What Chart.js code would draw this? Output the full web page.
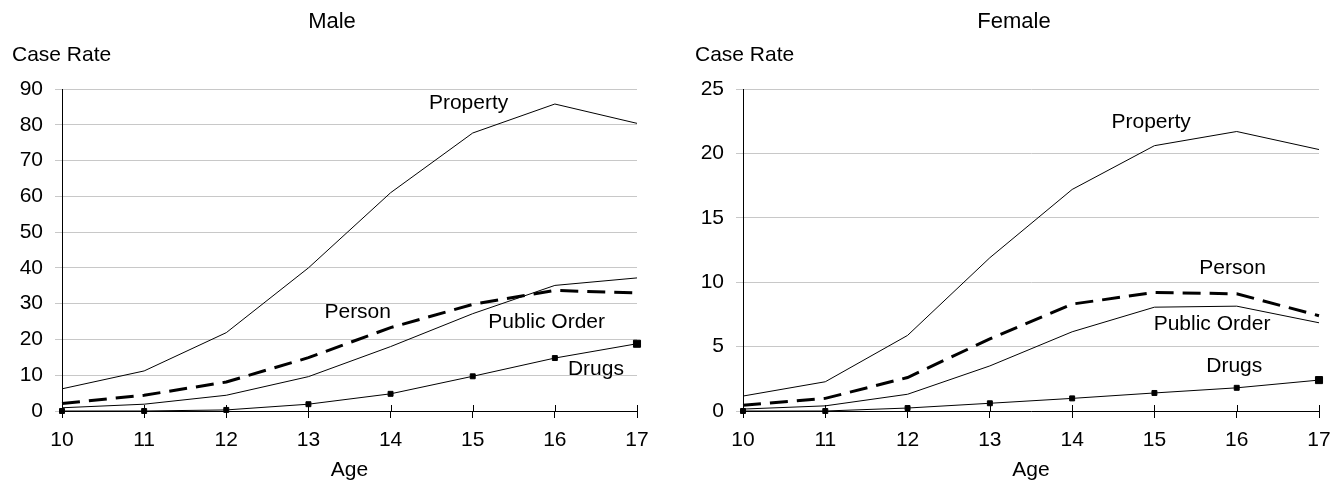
<!DOCTYPE html>
<html>
<head>
<meta charset="utf-8">
<script src="https://cdn.jsdelivr.net/npm/chart.js@4/dist/chart.umd.min.js"></script>
<style>
  html, body { margin: 0; padding: 0; background: #fff; }
  .box { position: absolute; top: 0; height: 481px; }
  #leftBox { left: 0; width: 666px; }
  #rightBox { left: 666px; width: 667px; }
</style>
</head>
<body>
<div class="box" id="leftBox"><canvas id="maleChart"></canvas></div>
<div class="box" id="rightBox"><canvas id="femaleChart"></canvas></div>
<script>
const ages = [10, 11, 12, 13, 14, 15, 16, 17];

const maleProperty = [6.2, 11.2, 21.9, 40.0, 61.0, 77.7, 85.8, 80.4];
const malePerson = [2.1, 4.4, 8.1, 14.9, 23.3, 29.8, 33.7, 33.0];
const malePublicOrder = [0.9, 1.9, 4.4, 9.6, 18.0, 27.2, 35.1, 37.2];
const maleDrugs = [0.0, 0.0, 0.3, 1.9, 4.8, 9.7, 14.8, 18.8];

const femaleProperty = [1.16, 2.27, 5.87, 11.9, 17.2, 20.6, 21.7, 20.3];
const femalePerson = [0.44, 0.98, 2.6, 5.6, 8.3, 9.2, 9.1, 7.4];
const femalePublicOrder = [0.15, 0.4, 1.3, 3.5, 6.15, 8.06, 8.14, 6.85];
const femaleDrugs = [0.0, 0.0, 0.23, 0.6, 0.98, 1.4, 1.8, 2.4];

// label anchors, in data units (age, rate)
const maleLabels = [
    { text: 'Property', x: 14.95, y: 86 },
    { text: 'Person', x: 13.6, y: 27.7 },
    { text: 'Public Order', x: 15.9, y: 24.9 },
    { text: 'Drugs', x: 16.5, y: 11.7 }
];
const femaleLabels = [
    { text: 'Property', x: 14.96, y: 22.4 },
    { text: 'Person', x: 15.95, y: 11.1 },
    { text: 'Public Order', x: 15.7, y: 6.75 },
    { text: 'Drugs', x: 15.97, y: 3.5 }
];

const FONT = '"Liberation Sans", Arial, sans-serif';

const toPoints = vals => vals.map((v, i) => ({ x: ages[i], y: v }));

const textPlugin = {
    id: 'texts',
    afterDraw(chart, args, opts) {
        const { ctx, chartArea, scales } = chart;
        ctx.save();
        ctx.fillStyle = '#000';
        ctx.textBaseline = 'middle';

        ctx.font = '22px ' + FONT;
        ctx.textAlign = 'center';
        ctx.fillText(opts.title, opts.titleX, 22);

        ctx.font = '21px ' + FONT;
        ctx.fillText('Age', (chartArea.left + chartArea.right) / 2, 470);

        ctx.textAlign = 'left';
        ctx.fillText('Case Rate', opts.caseX, 55);

        ctx.textAlign = 'center';
        opts.labels.forEach(l => {
            ctx.fillText(l.text, scales.x.getPixelForValue(l.x), scales.y.getPixelForValue(l.y));
        });

        // small tick marks above the x axis
        ctx.strokeStyle = '#000';
        ctx.lineWidth = 1;
        const y0 = scales.y.getPixelForValue(0);
        ages.forEach(a => {
            const px = Math.round(scales.x.getPixelForValue(a)) + 0.5;
            ctx.beginPath();
            ctx.moveTo(px, y0 - 6);
            ctx.lineTo(px, y0);
            ctx.stroke();
        });
        ctx.restore();
    }
};

function makeChart(id, cfg) {
    const ctx = document.getElementById(id).getContext('2d');
    return new Chart(ctx, {
        type: 'line',
        data: {
            datasets: [
                { data: toPoints(cfg.property), borderColor: '#000', borderWidth: 1, pointRadius: 0, order: 1 },
                { data: toPoints(cfg.person), borderColor: '#000', borderWidth: 3, borderDash: [18, 9], pointRadius: 0, order: 2 },
                { data: toPoints(cfg.publicOrder), borderColor: '#000', borderWidth: 1, pointRadius: 0, order: 3 },
                {
                    data: toPoints(cfg.drugs), borderColor: '#000', borderWidth: 1,
                    pointStyle: 'rect', backgroundColor: '#000',
                    pointRadius: c => c.dataIndex === ages.length - 1 ? 5 : 3.5,
                    order: 0
                }
            ]
        },
        options: {
            responsive: true,
            maintainAspectRatio: false,
            animation: false,
            clip: false,
            layout: { padding: { top: 89, left: 0, right: cfg.padRight, bottom: 0 } },
            plugins: {
                legend: { display: false },
                tooltip: { enabled: false },
                texts: { title: cfg.title, titleX: cfg.titleX, caseX: cfg.caseX, labels: cfg.labels }
            },
            scales: {
                x: {
                    type: 'linear',
                    min: 10, max: 17,
                    afterFit: s => { s.height = 70; s.paddingLeft = 0; s.paddingRight = 0; },
                    ticks: { stepSize: 1, color: '#000', font: { family: FONT, size: 21 }, padding: 10 },
                    grid: { drawOnChartArea: false, color: '#000', tickLength: 7 },
                    border: { display: true, color: '#000', width: 1 }
                },
                y: {
                    min: 0, max: cfg.max,
                    afterFit: s => { s.width = cfg.axisWidth; s.paddingTop = 0; s.paddingBottom = 0; },
                    ticks: { stepSize: cfg.step, color: '#000', font: { family: FONT, size: 21 }, padding: 12 },
                    grid: { color: '#c8c8c8', tickLength: 7 },
                    border: { display: true, color: '#000', width: 1 }
                }
            }
        },
        plugins: [textPlugin]
    });
}

makeChart('maleChart', {
    property: maleProperty, person: malePerson, publicOrder: malePublicOrder, drugs: maleDrugs,
    max: 90, step: 10, title: 'Male', titleX: 332, caseX: 12, labels: maleLabels,
    axisWidth: 62, padRight: 29
});
makeChart('femaleChart', {
    property: femaleProperty, person: femalePerson, publicOrder: femalePublicOrder, drugs: femaleDrugs,
    max: 25, step: 5, title: 'Female', titleX: 348, caseX: 29, labels: femaleLabels,
    axisWidth: 77, padRight: 14
});
</script>
</body>
</html>
